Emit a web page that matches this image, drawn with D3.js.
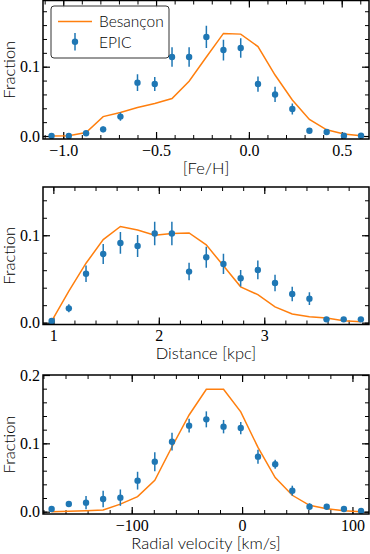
<!doctype html>
<html>
<head>
<meta charset="UTF-8">
<title>EPIC vs Besancon</title>
<style>
  body { margin: 0; background: #fff; }
  .tick text { font-family: "Liberation Serif", serif; font-size: 16px; fill: #000; }
  .lab { font-family: Lato, "DejaVu Sans", sans-serif; font-size: 16.5px; font-weight: 300; fill: #000; }
</style>
</head>
<body>
<div id="chart"></div>
<script src="https://cdn.jsdelivr.net/npm/d3@7"></script>
<script>
// bin centres and fractions
var fehX = [-1.063, -0.970, -0.877, -0.785, -0.692, -0.600, -0.507, -0.414, -0.322, -0.229, -0.137, -0.044, 0.049, 0.141, 0.234, 0.326, 0.419, 0.512, 0.604];
var fehEpic = [0.0, 0.0, 0.004, 0.0096, 0.028, 0.077, 0.075, 0.114, 0.114, 0.143, 0.124, 0.127, 0.075, 0.060, 0.039, 0.0077, 0.0057, 0.0005, 0.0005];
var fehErr = [0.002, 0.002, 0.003, 0.004, 0.006, 0.012, 0.010, 0.014, 0.014, 0.016, 0.015, 0.014, 0.011, 0.011, 0.008, 0.003, 0.003, 0.001, 0.001];
var fehBes = [0.0, 0.0005, 0.005, 0.028, 0.034, 0.041, 0.047, 0.054, 0.079, 0.114, 0.148, 0.147, 0.129, 0.088, 0.052, 0.024, 0.009, 0.003, 0.0005];

var distX = [0.984, 1.147, 1.310, 1.473, 1.636, 1.799, 1.961, 2.124, 2.287, 2.450, 2.613, 2.776, 2.939, 3.102, 3.265, 3.428, 3.590, 3.753, 3.916];
var distEpic = [0.0019, 0.0164, 0.056, 0.0786, 0.0912, 0.0878, 0.102, 0.102, 0.0584, 0.0748, 0.0672, 0.0508, 0.0603, 0.0454, 0.0328, 0.0275, 0.0038, 0.0038, 0.0038];
var distErr = [0.002, 0.0046, 0.0095, 0.0115, 0.0124, 0.0126, 0.0135, 0.0135, 0.010, 0.012, 0.0115, 0.0095, 0.0107, 0.0094, 0.0084, 0.0073, 0.002, 0.002, 0.002];
var distBes = [0.0019, 0.036, 0.068, 0.095, 0.110, 0.106, 0.100, 0.102, 0.1027, 0.089, 0.065, 0.041, 0.032, 0.018, 0.010, 0.0069, 0.0053, 0.0023, 0.0011];

var rvX = [-172.6, -157.0, -141.4, -125.9, -110.3, -94.7, -79.1, -63.5, -48.0, -32.4, -16.8, -1.2, 14.4, 30.0, 45.5, 61.1, 76.7, 92.3, 107.8];
var rvEpic = [0.0039, 0.0112, 0.0132, 0.0185, 0.0205, 0.0454, 0.0732, 0.1024, 0.1259, 0.1351, 0.1244, 0.1224, 0.0805, 0.0693, 0.0307, 0.0073, 0.0073, 0.0039, 0.001];
var rvErr = [0.002, 0.004, 0.0098, 0.012, 0.012, 0.013, 0.0139, 0.013, 0.0102, 0.0117, 0.0098, 0.009, 0.0102, 0.0066, 0.0073, 0.005, 0.004, 0.002, 0.002];
var rvBes = [0.0, 0.0005, 0.0015, 0.0024, 0.011, 0.022, 0.046, 0.095, 0.1415, 0.179, 0.179, 0.146, 0.094, 0.050, 0.024, 0.0093, 0.0044, 0.0015, 0.0];

// major tick labels
var fehTicks = [-1.0, -0.5, 0.0, 0.5];
var distTicks = [1, 2, 3];
var rvTicks = [-100, 0, 100];
var fracTicks = [0.0, 0.1, 0.2];

var W = 370, H = 554;
var left = 43, right = 369;
var blue = "#1f77b4", orange = "#ff7f0e";

var svg = d3.select("#chart").append("svg")
  .attr("width", W).attr("height", H);

var panels = [
  {top: 0.5, bottom: 139, xd: [-1.109, 0.647], yd: [-0.0043, 0.1955],
   x: fehX, epic: fehEpic, err: fehErr, bes: fehBes,
   xt: fehTicks, xminor: d3.range(-1.1, 0.65, 0.1), xfmt: d3.format(".1f"),
   label: "[Fe/H]", legend: true},
  {top: 187, bottom: 324.5, xd: [0.902, 3.993], yd: [-0.0021, 0.1552],
   x: distX, epic: distEpic, err: distErr, bes: distBes,
   xt: distTicks, xminor: d3.range(1.0, 3.95, 0.2), xfmt: d3.format("d"),
   label: "Distance [kpc]"},
  {top: 375, bottom: 514, xd: [-180.4, 115.0], yd: [-0.0034, 0.2],
   x: rvX, epic: rvEpic, err: rvErr, bes: rvBes,
   xt: rvTicks, xminor: d3.range(-180, 115, 20), xfmt: d3.format("d"),
   label: "Radial velocity [km/s]"}
];

panels.forEach(function(p) {
  var x = d3.scaleLinear().domain(p.xd).range([left, right]);
  var y = d3.scaleLinear().domain(p.yd).range([p.bottom, p.top]);
  var g = svg.append("g");
  var yt = fracTicks.filter(function(v) { return v <= p.yd[1] + 1e-9; });
  var yminor = d3.range(0, p.yd[1] + 1e-9, 0.02);

  // ticks, inward, on all four sides
  function ax(gen, tr, vals, size, fmt, pad) {
    var a = g.append("g").attr("transform", tr)
      .call(gen.tickValues(vals).tickSize(-size).tickPadding(pad).tickFormat(fmt));
    a.select(".domain").remove();
    a.selectAll("line").attr("stroke", "#000").attr("stroke-width", size > 5 ? 1.2 : 1);
    return a;
  }
  var none = function() { return ""; };
  ax(d3.axisBottom(x), "translate(0," + p.bottom + ")", p.xminor, 4, none, 0);
  ax(d3.axisTop(x), "translate(0," + p.top + ")", p.xminor, 4, none, 0);
  ax(d3.axisLeft(y), "translate(" + left + ",0)", yminor, 4, none, 0);
  ax(d3.axisRight(y), "translate(" + right + ",0)", yminor, 4, none, 0);
  ax(d3.axisBottom(x), "translate(0," + p.bottom + ")", p.xt, 7, p.xfmt, 5.6);
  ax(d3.axisTop(x), "translate(0," + p.top + ")", p.xt, 7, none, 0);
  ax(d3.axisLeft(y), "translate(" + left + ",0)", yt, 7, d3.format(".1f"), 3);
  ax(d3.axisRight(y), "translate(" + right + ",0)", yt, 7, none, 0);

  var clip = "clip" + p.top.toFixed(0);
  g.append("clipPath").attr("id", clip).append("rect")
    .attr("x", left).attr("y", p.top).attr("width", right - left).attr("height", p.bottom - p.top);
  var inner = g.append("g").attr("clip-path", "url(#" + clip + ")");

  // Besancon model
  inner.append("path")
    .datum(p.x)
    .attr("fill", "none").attr("stroke", orange).attr("stroke-width", 1.5)
    .attr("d", d3.line()
      .x(function(d) { return x(d); })
      .y(function(d, i) { return y(p.bes[i]); }));

  // EPIC points with error bars
  inner.selectAll(".eb").data(p.x).join("line")
    .attr("x1", function(d) { return x(d); })
    .attr("x2", function(d) { return x(d); })
    .attr("y1", function(d, i) { return y(p.epic[i] - p.err[i]); })
    .attr("y2", function(d, i) { return y(p.epic[i] + p.err[i]); })
    .attr("stroke", blue).attr("stroke-width", 1.5);
  inner.selectAll(".pt").data(p.x).join("circle")
    .attr("cx", function(d) { return x(d); })
    .attr("cy", function(d, i) { return y(p.epic[i]); })
    .attr("r", 3.2).attr("fill", blue);

  g.append("rect")
    .attr("x", left).attr("y", p.top).attr("width", right - left).attr("height", p.bottom - p.top)
    .attr("fill", "none").attr("stroke", "#000").attr("stroke-width", 1.5);

  g.append("text").attr("class", "lab")
    .attr("x", (left + right) / 2).attr("y", p.bottom + 34.5)
    .attr("text-anchor", "middle").text(p.label);
  g.append("text").attr("class", "lab")
    .attr("transform", "translate(15," + (p.top + p.bottom) / 2 + ") rotate(-90)")
    .attr("text-anchor", "middle").text("Fraction");

  if (p.legend) {
    var lg = g.append("g");
    lg.append("rect").attr("x", 51).attr("y", 6).attr("width", 118).attr("height", 52).attr("rx", 3)
      .attr("fill", "#fff").attr("fill-opacity", 0.85).attr("stroke", "#333").attr("stroke-width", 1);
    lg.append("line").attr("x1", 58).attr("x2", 92).attr("y1", 21.5).attr("y2", 21.5)
      .attr("stroke", orange).attr("stroke-width", 1.5);
    lg.append("line").attr("x1", 75).attr("x2", 75).attr("y1", 33).attr("y2", 50.5)
      .attr("stroke", blue).attr("stroke-width", 1.5);
    lg.append("circle").attr("cx", 75).attr("cy", 41.7).attr("r", 3.2).attr("fill", blue);
    lg.append("text").attr("class", "lab").style("font-size", "15.5px")
      .attr("x", 99).attr("y", 27).text("Besançon");
    lg.append("text").attr("class", "lab").style("font-size", "15.5px")
      .attr("x", 99).attr("y", 47.5).text("EPIC");
  }
});
</script>
</body>
</html>
